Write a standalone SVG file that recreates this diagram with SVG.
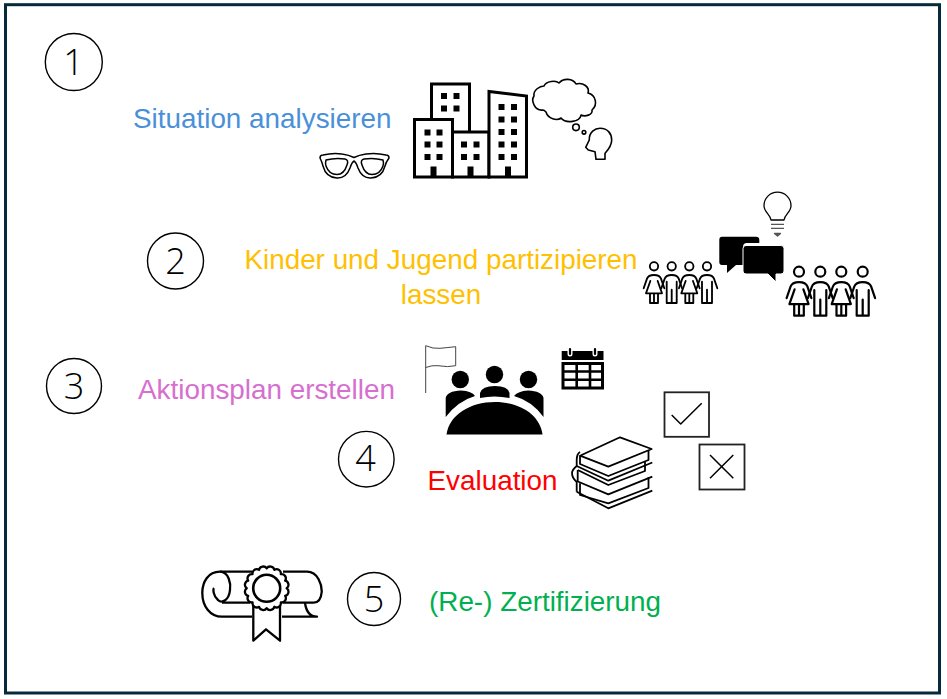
<svg xmlns="http://www.w3.org/2000/svg" width="947" height="699" viewBox="0 0 947 699">
<style>
.t{font-family:"Liberation Sans",Arial,sans-serif;font-size:27.85px}
.c{fill:#fff;stroke:#000;stroke-width:1.4}
.d{font-family:"Open Sans","Noto Sans",sans-serif;font-weight:300;font-size:36px;fill:#000;text-anchor:middle}
.l{fill:none;stroke:#000;stroke-linejoin:round}
.b{fill:#fff;stroke:#000;stroke-width:3}
.w{fill:#000}
</style>
<defs>
<g id="girl" fill="none" stroke="#000" stroke-width="5.500" stroke-linejoin="round" stroke-linecap="round" transform="scale(.3333)">
<circle cx="0" cy="0" r="12.500"/>
<path d="M-31,66 L-21,37 Q-17,26 0,26 Q17,26 21,37 L31,66 M-11,44 L-24,81 H24 L11,44 M-12,81 V110 H12 V81 M0,81 V110"/>
</g>
<g id="boy" fill="none" stroke="#000" stroke-width="5.500" stroke-linejoin="round" stroke-linecap="round" transform="scale(.3333)">
<circle cx="0" cy="0" r="12.500"/>
<path d="M-31,66 L-21,37 Q-17,26 0,26 Q17,26 21,37 L31,66 M-15,46 V110 H15 V46 M0,70 V110"/>
</g>
<path id="win" d="M0,0h6v6h-6z"/>
</defs>
<rect x="5.500" y="4.700" width="934" height="688.300" fill="#fff" stroke="#06293c" stroke-width="3"/>

<g id="connectors"></g>

<g id="n1"><circle class="c" cx="73.800" cy="62" r="28.500"/><text class="d" x="73.500" y="74.500">1</text></g>
<g id="n2"><circle class="c" cx="175.500" cy="261" r="28"/><text class="d" x="175.500" y="273.500">2</text></g>
<g id="n3"><circle class="c" cx="74" cy="386" r="27.500"/><text class="d" x="74" y="398.500">3</text></g>
<g id="n4"><circle class="c" cx="366.300" cy="459.200" r="27.800"/><text class="d" x="365.500" y="471">4</text></g>
<g id="n5"><circle class="c" cx="374" cy="599" r="26.500"/><text class="d" x="374" y="611.500">5</text></g>

<g id="label1"><text class="t" x="133" y="127.500" fill="#4a90d9">Situation analysieren</text></g>
<g id="label2"><text class="t" fill="#ffc000" text-anchor="middle"><tspan x="441" y="268.500">Kinder und Jugend partizipieren</tspan><tspan x="441" y="303.500">lassen</tspan></text></g>
<g id="label3"><text class="t" x="138" y="398.500" fill="#d66fcf">Aktionsplan erstellen</text></g>
<g id="label4"><text class="t" x="427.500" y="490" fill="#f00">Evaluation</text></g>
<g id="label5"><text class="t" x="429" y="610.500" fill="#00b050">(Re-) Zertifizierung</text></g>

<g id="glasses" class="l" stroke-width="1.500">
<path d="M320,158 Q320,155 323,155 Q333,152.500 342,154 Q349,155 354,157.500 Q359,155 366,154 Q376,152.500 386,155 Q389,155 389,158 Q386,162 385,166 Q382,177.500 371,178 Q362,178.500 358,168 Q356,162 354,161 Q352,162 350,168 Q346,178.500 337,178 Q326,177.500 323,166 Q322,162 320,158 Z"/>
<path d="M326,160 Q335,157.500 345,159 Q349,160 347,165 Q344,174.500 337,174.500 Q329,174.500 326,166 Q325,163 326,160 Z M383,160 Q374,157.500 364,159 Q360,160 362,165 Q365,174.500 372,174.500 Q380,174.500 383,166 Q384,163 383,160 Z"/>
</g>

<g id="city">
<path class="b" d="M431.500,131 V84 H469.500 V132"/>
<rect class="b" x="414.500" y="119.500" width="38" height="57.500"/>
<rect class="b" x="452.500" y="132" width="36.500" height="45"/>
<path class="b" d="M489,177 V91.500 L526.500,96 V177 Z"/>
<g class="w">
<use href="#win" x="441" y="93"/><use href="#win" x="453.500" y="93"/><use href="#win" x="441" y="105.500"/><use href="#win" x="453.500" y="105.500"/>
<use href="#win" x="424.500" y="129.500"/><use href="#win" x="436.500" y="129.500"/><use href="#win" x="424.500" y="141.500"/><use href="#win" x="436.500" y="141.500"/><use href="#win" x="424.500" y="154"/><use href="#win" x="436.500" y="154"/>
<use href="#win" x="461" y="141.500"/><use href="#win" x="473.500" y="141.500"/><use href="#win" x="461" y="154"/><use href="#win" x="473.500" y="154"/>
<use href="#win" x="498.500" y="104"/><use href="#win" x="511" y="104"/><use href="#win" x="498.500" y="116.500"/><use href="#win" x="511" y="116.500"/><use href="#win" x="498.500" y="129"/><use href="#win" x="511" y="129"/><use href="#win" x="498.500" y="141.500"/><use href="#win" x="511" y="141.500"/><use href="#win" x="498.500" y="154"/><use href="#win" x="511" y="154"/>
<rect x="430.500" y="166.500" width="6" height="10"/><rect x="467.500" y="166.500" width="6" height="10"/><rect x="505" y="166.500" width="6" height="10"/>
</g>
</g>

<g id="thought" class="l" stroke-width="1.600">
<path d="M543,110 C534,111 531,100 534,96 C533,90 540,86 544,86 C546,81 556,80 559,83 C563,78 573,78 576,84 C583,82 590,87 588,93 C596,95 598,105 592,110 C593,115 585,117 581,115 C580,122 566,124 561,118 C557,121 548,119 546,112 C545,111 544,110 543,110 Z"/>
<circle cx="576" cy="127.300" r="3.300"/><circle cx="584" cy="132.300" r="1.800"/>
<path d="M605,159.300 H596 L595,151.700 L588.300,150 L585.700,147.300 L589.300,140 C589,132 595,128.300 600,128.300 C608,128.300 611.700,134 611.700,140 C611.700,146 608,150 605,153.300 Z"/>
</g>

<g id="bulb" class="l" stroke-width="1.300">
<path d="M771,220 C770,214 764,212 764,205.700 A13.500,13.500 0 0 1 791,205.700 C791,212 785,214 784,220 Z"/>
<path d="M771,224.300 H784 M771,228.300 H784" stroke="#555"/>
<path d="M774.500,233.500 H780.500 L777.500,236 Z" stroke="#555" fill="#555"/>
</g>

<g id="chat">
<path d="M722,236.700 H756 Q759.300,236.700 759.300,240 V243 H747 Q743,243 743,247 V265 H736 L727,273 V265 H722 Q719.300,265 719.300,262 V240 Q719.300,236.700 722,236.700 Z" fill="#000"/>
<path d="M746,245.500 H781 Q784,245.500 784,248.500 V271 Q784,274 781,274 H776 V282 L768,274 H746 Q743,274 743,271 V248.500 Q743,245.500 746,245.500 Z" fill="#000" stroke="#fff" stroke-width="1"/>
</g>

<g id="kids1">
<use href="#girl" x="654" y="266.300"/><use href="#boy" x="671.700" y="266.300"/><use href="#girl" x="689.300" y="266.300"/><use href="#boy" x="707" y="266.300"/>
</g>
<g id="kids2">
<use href="#girl" transform="translate(799,271.700) scale(1.2)"/><use href="#boy" transform="translate(820.300,271.700) scale(1.2)"/><use href="#girl" transform="translate(841.300,271.700) scale(1.2)"/><use href="#boy" transform="translate(862.700,271.700) scale(1.2)"/>
</g>

<g id="flag" class="l" stroke-width="1">
<path d="M425.700,393 V345.700 Q433,349 440,348.300 Q448,347.500 455.700,346.700 V365.700 Q448,367.500 438,365.700 Q432,365 425.700,367.500" stroke="#444"/>
</g>

<g id="meeting" fill="#000">
<circle cx="460.300" cy="379.500" r="8.700"/><circle cx="494.500" cy="374.500" r="8.700"/><circle cx="528.500" cy="379.500" r="8.700"/>
<path d="M445.700,417 V398 Q447,391 461,390.500 Q472,391 475,396 Q458,401 445.700,417 Z"/>
<path d="M480,398 V393 Q482,386 495,386 Q508,386 509.500,393 V398 Q494,395 480,398 Z"/>
<path d="M543.500,417 V398 Q542,391 528,390.500 Q518,391 514,396 Q532,401 543.500,417 Z"/>
<path d="M446.500,434.500 C449,415 470,402 495,402 C520,402 540,415 542.500,434.500 Z"/>
</g>

<g id="calendar">
<rect x="561.700" y="351" width="41.800" height="9" fill="#000"/>
<path d="M570,349 V354 M595,349 V354" stroke="#fff" stroke-width="5" stroke-linecap="round"/>
<path d="M570,349 V354 M595,349 V354" stroke="#000" stroke-width="2.200" stroke-linecap="round"/>
<rect x="563" y="363.500" width="39.500" height="24.500" fill="#fff" stroke="#000" stroke-width="3"/>
<path d="M576.700,363 V388 M590,363 V388 M563,371.500 H603 M563,379.700 H603" stroke="#000" stroke-width="2.600"/>
</g>

<g id="check">
<rect x="664.500" y="392.300" width="44.500" height="44.500" fill="#fff" stroke="#222" stroke-width="1.800"/>
<path class="l" stroke-width="1.500" d="M671.700,415 L680.700,424 L701.700,403.300"/>
</g>
<g id="cross">
<rect x="699.500" y="444.500" width="45" height="45" fill="#fff" stroke="#222" stroke-width="1.800"/>
<path class="l" stroke-width="1.500" d="M710,455 L733.300,478.300 M733.300,455 L710,478.300"/>
</g>

<g id="books" class="l" stroke-width="1.800">
<path d="M580,455.700 L620,437.300 L651.700,449 L608.300,466.700 Z"/>
<path d="M580,455.700 V464 L608.300,476 L648.500,460 V450.300"/>
<path d="M652.300,462.500 L608.300,480.700 L576.700,466"/>
<path d="M577.700,470 L608.300,485 L645,471 V462"/>
<path d="M576.700,481 L608.300,494.300 L652.300,476.700"/>
<path d="M577.700,470 V481 M580,483.300 V495 L608.300,503.300 L648.500,488 V477"/>
<path d="M576.700,491.700 L608.300,508.300 L652.300,490.700"/>
<path d="M580,452 Q576.700,454 576.700,460 V466 Q572,470 572,473 Q572,478 576.700,482 V491.700"/>
</g>

<g id="diploma" class="l" stroke-width="2.300">
<path d="M252,571.700 H220 C208,571.700 202.300,582 202.300,593 C202.300,606 210,616.700 222,616.700 H252"/>
<path d="M220,571.700 C229,572 231,584 230,590 C229,600 222,604 218,600 C213,596 213,589 214,588"/>
<path d="M222,602.700 H250 M283,602.700 H313 C318,603 321,600 321.700,592 C322,585 318,571.700 307,571.700 H283"/>
<path d="M305,603 C306,610 309,616.700 317,616.700 H282"/>
<path d="M253.300,606 V640.700 L266,629.300 L280,640.700 V606"/>
<g transform="translate(266.700,588.300)">
<path fill="#fff" d="M20,0 A4.300,4.300 0 0 1 18.500,7.650 A4.300,4.300 0 0 1 14.150,14.150 A4.300,4.300 0 0 1 7.650,18.500 A4.300,4.300 0 0 1 0,20 A4.300,4.300 0 0 1 -7.650,18.500 A4.300,4.300 0 0 1 -14.150,14.150 A4.300,4.300 0 0 1 -18.500,7.650 A4.300,4.300 0 0 1 -20,0 A4.300,4.300 0 0 1 -18.500,-7.650 A4.300,4.300 0 0 1 -14.150,-14.150 A4.300,4.300 0 0 1 -7.650,-18.500 A4.300,4.300 0 0 1 0,-20 A4.300,4.300 0 0 1 7.650,-18.500 A4.300,4.300 0 0 1 14.150,-14.150 A4.300,4.300 0 0 1 18.500,-7.650 A4.300,4.300 0 0 1 20,0 Z"/>
<circle r="13.500" stroke-width="2.600"/>
</g>
</g>
</svg>
